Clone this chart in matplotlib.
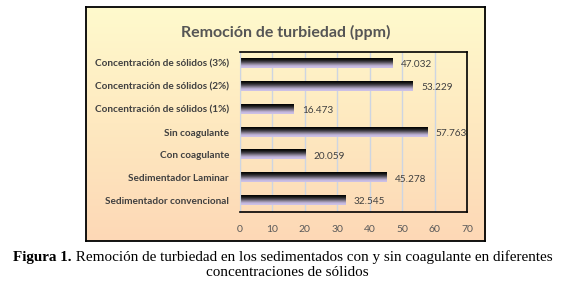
import numpy as np
import matplotlib
matplotlib.use("Agg")
import matplotlib.pyplot as plt
from matplotlib.colors import LinearSegmentedColormap

# data, top to bottom as in the chart
categories = [
    "Concentración de sólidos (3%)",
    "Concentración de sólidos (2%)",
    "Concentración de sólidos (1%)",
    "Sin coagulante",
    "Con coagulante",
    "Sedimentador Laminar",
    "Sedimentador convencional",
]
values = [47.032, 53.229, 16.473, 57.763, 20.059, 45.278, 32.545]
value_labels = ["47.032", "53.229", "16.473", "57.763", "20.059", "45.278", "32.545"]
xticks = [0, 10, 20, 30, 40, 50, 60, 70]

title = "Remoción de turbiedad (ppm)"
caption_bold = "Figura 1."
caption_rest = " Remoción de turbiedad en los sedimentados con y sin coagulante en diferentes"
caption_line2 = "concentraciones de sólidos"

label_font = ["Lato", "DejaVu Sans"]
serif = "Liberation Serif"

fig = plt.figure(figsize=(5.71, 2.89), dpi=100)

# chart box with yellow -> peach gradient
bg = fig.add_axes([0.1506, 0.1661, 0.6988, 0.8097])
bg_cmap = LinearSegmentedColormap.from_list("bg", ["#fffacd", "#fee9c0", "#fdd8b6"])
bg.imshow(np.linspace(0, 1, 256).reshape(-1, 1), aspect="auto", cmap=bg_cmap,
          extent=[0, 1, 0, 1])
bg.set_xticks([])
bg.set_yticks([])
for s in bg.spines.values():
    s.set_color("black")
    s.set_linewidth(1.3)
bg.text(0.5, 0.89, title, transform=bg.transAxes, ha="center", va="center",
        fontsize=11.5, fontweight="bold", color="#555555", family=label_font)

ax = fig.add_axes([0.4203, 0.2664, 0.3976, 0.5537])
ax.patch.set_alpha(0)

y = np.arange(len(categories))[::-1]
bars = ax.barh(y, values, height=0.4, color="none", zorder=2)

# black on top fading to lavender at the bottom of each bar
bar_cmap = LinearSegmentedColormap.from_list(
    "bar", ["#000000", "#1a1a1a", "#4a4650", "#8c8498", "#c2b6dc", "#cfc3e8"])
grad = np.linspace(0, 1, 64).reshape(-1, 1)
for bar, lab in zip(bars, value_labels):
    bb = bar.get_bbox()
    ax.imshow(grad, extent=[bb.x0, bb.x1, bb.y0, bb.y1], origin="upper",
              aspect="auto", cmap=bar_cmap, zorder=2)
    ax.annotate(lab, (bb.x1, (bb.y0 + bb.y1) / 2), xytext=(6, -1),
                textcoords="offset points", va="center", ha="left",
                fontsize=7.2, color="#404040", family=label_font)

ax.set_xlim(0, 70)
ax.set_ylim(-0.5, len(categories) - 0.5)
ax.set_aspect("auto")
ax.set_xticks(xticks)
ax.set_xticklabels([str(t) for t in xticks], fontsize=7.5, color="#595959",
                   family=label_font)
ax.set_yticks(y)
ax.set_yticklabels(categories, fontsize=7.2, fontweight="bold", color="#404040",
                   family=label_font)
ax.tick_params(length=0, pad=8)
ax.tick_params(axis="x", pad=9)
ax.grid(axis="x", color="#cdd5e2", linewidth=1, zorder=0)
ax.set_axisbelow(True)
for side in ["top", "right", "bottom"]:
    ax.spines[side].set_color("black")
    ax.spines[side].set_linewidth(1.2)
ax.spines["left"].set_color("#cdd5e2")

# caption under the chart
t1 = fig.text(0.0228, 0.0969, caption_bold, fontsize=10.9, fontweight="bold",
              family=serif, va="baseline")
ax.annotate(caption_rest, xy=(1, 0), xycoords=t1, va="bottom", ha="left",
            fontsize=10.9, family=serif, annotation_clip=False)
fig.text(0.503, 0.045, caption_line2, fontsize=10.9, family=serif,
         ha="center", va="baseline")

fig.savefig("out.png", dpi=100)
